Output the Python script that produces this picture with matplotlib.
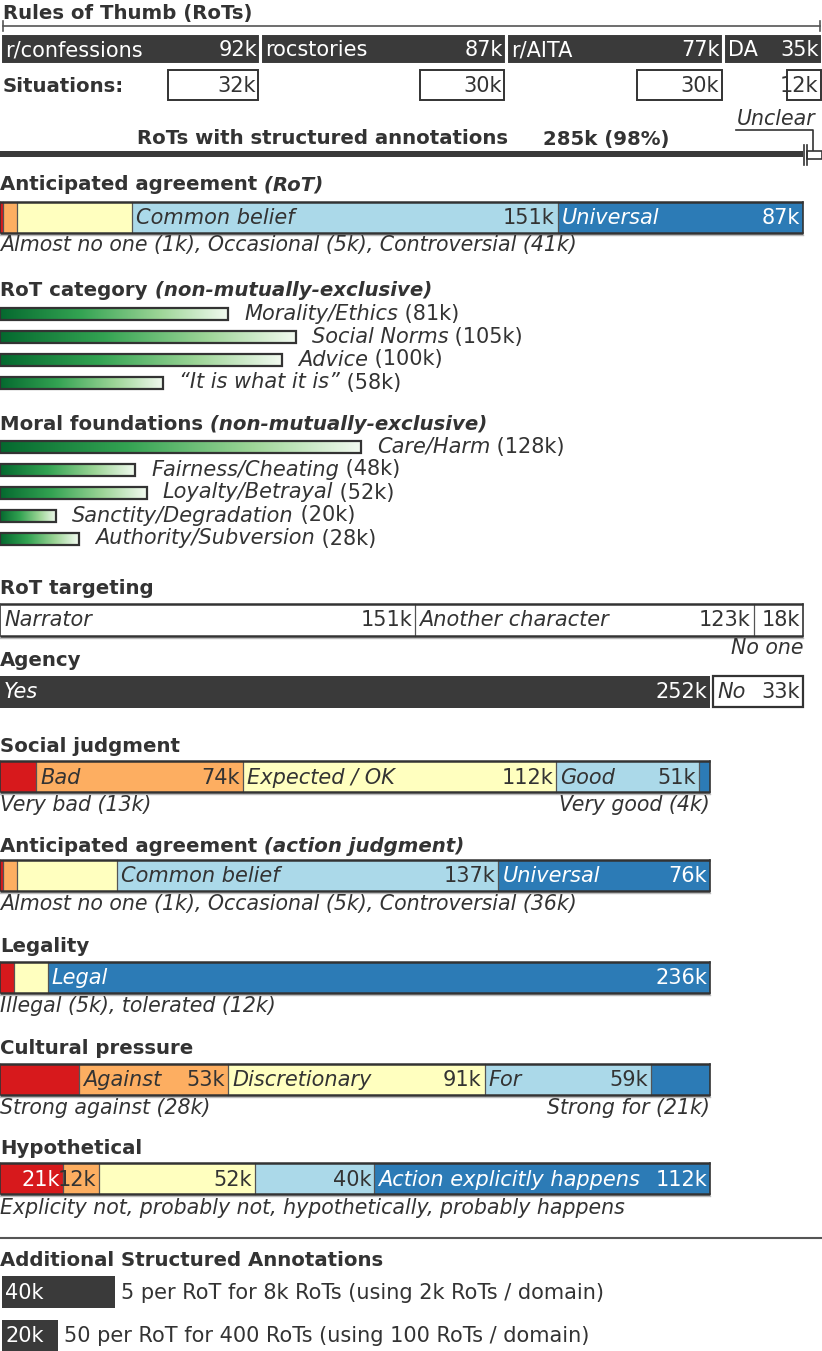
import matplotlib
matplotlib.use("Agg")
import matplotlib.pyplot as plt
import numpy as np
from matplotlib.colors import LinearSegmentedColormap
from matplotlib.patches import Rectangle

plt.rcParams['font.family'] = ['DejaVu Sans']

# ---------------- data ----------------
domains = ['r/confessions', 'rocstories', 'r/AITA', 'DA']
domain_rots = [92, 87, 77, 35]
domain_situations = [32, 30, 30, 12]
rots_annotated = 285
rots_unclear = 6
rots_annotated_label = '285k (98%)'

agree_rot_labels = ['Almost no one', 'Occasional', 'Controversial', 'Common belief', 'Universal']
agree_rot_values = [1, 5, 41, 151, 87]

category_labels = ['Morality/Ethics', 'Social Norms', 'Advice', '\u201cIt is what it is\u201d']
category_values = [81, 105, 100, 58]

moral_labels = ['Care/Harm', 'Fairness/Cheating', 'Loyalty/Betrayal',
                'Sanctity/Degradation', 'Authority/Subversion']
moral_values = [128, 48, 52, 20, 28]

target_labels = ['Narrator', 'Another character', 'No one']
target_values = [151, 123, 18]

agency_labels = ['Yes', 'No']
agency_values = [252, 33]

social_labels = ['Very bad', 'Bad', 'Expected / OK', 'Good', 'Very good']
social_values = [13, 74, 112, 51, 4]

agree_action_labels = ['Almost no one', 'Occasional', 'Controversial', 'Common belief', 'Universal']
agree_action_values = [1, 5, 36, 137, 76]

legal_labels = ['Illegal', 'tolerated', 'Legal']
legal_values = [5, 12, 236]

cultural_labels = ['Strong against', 'Against', 'Discretionary', 'For', 'Strong for']
cultural_values = [28, 53, 91, 59, 21]

hypo_labels = ['Explicity not', 'probably not', 'hypothetically', 'probably happens',
               'Action explicitly happens']
hypo_values = [21, 12, 52, 40, 112]

extra_values = [40, 20]
extra_texts = ['5 per RoT for 8k RoTs (using 2k RoTs / domain)',
               '50 per RoT for 400 RoTs (using 100 RoTs / domain)']

# ---------------- style ----------------
W, H = 822, 1351
K = rots_annotated / 803.0        # thousands of RoTs per pixel
XMAX = W * K
def P(px):
    return px * K

FS = 15.0      # body text
FI = 14.8      # italic captions
FT = 14.2      # bold titles
TXT = '#333333'
EDGE = '#333333'
SEP = '#555555'
DARK = '#3a3a3a'
RED, ORA, YEL, LBL, BLU = '#d7191c', '#fdae61', '#ffffbf', '#abd9e9', '#2c7bb6'
FIVE = [RED, ORA, YEL, LBL, BLU]
green = LinearSegmentedColormap.from_list(
    'g', [(0, '#05692f'), (0.35, '#33a352'), (0.7, '#9dd597'), (1, '#f2faf0')])

fig = plt.figure(figsize=(W / 100, H / 100), dpi=100)
ax = fig.add_axes([0, 0, 1, 1])
ax.axis('off')


def fmt(v):
    return f'{v}k'


def mixed(x, y, parts, color=TXT, va='center'):
    s, st, wt, fs = parts[0]
    prev = ax.text(x, y, s, fontsize=fs, style=st, weight=wt, color=color,
                   va=va, ha='left')
    for s, st, wt, fs in parts[1:]:
        prev = ax.annotate(s, xy=(1, 0), xycoords=prev, va='bottom', ha='left',
                           fontsize=fs, style=st, weight=wt, color=color)


def title(y, main, extra=None):
    parts = [(main, 'normal', 'bold', FT)]
    if extra:
        parts.append((' ' + extra, 'italic', 'bold', FT))
    mixed(0, y, parts)


def stacked(yc, h, values, colors, total, edge=EDGE):
    vals = np.asarray(values, float)
    w = vals / vals.sum() * total
    left = np.concatenate([[0], np.cumsum(w)[:-1]])
    ax.barh(yc, w, left=left, height=h, color=colors, linewidth=0, zorder=2)
    for b in left[1:]:
        ax.plot([b, b], [yc - h / 2, yc + h / 2], color=SEP, lw=0.9, zorder=3)
    ax.plot([0, total], [yc - h / 2, yc - h / 2], color=edge, lw=1.8, zorder=3,
            solid_capstyle='butt')
    ax.plot([0, total], [yc + h / 2, yc + h / 2], color=edge, lw=1.8, zorder=3,
            solid_capstyle='butt')
    for xx in (0, total):
        ax.plot([xx, xx], [yc - h / 2, yc + h / 2], color=edge, lw=1.2, zorder=3)
    ax.plot([0, total], [yc + h / 2 + 2, yc + h / 2 + 2], color='#bbbbbb', lw=1, zorder=1)
    return left, w


def inbar(left, w, yc, name=None, value=None, color=TXT):
    if name:
        ax.text(left + P(4), yc + 1, name, style='italic', fontsize=FS,
                color=color, va='center', ha='left', zorder=4)
    if value is not None:
        ax.text(left + w - P(3), yc + 1, fmt(value), fontsize=FS,
                color=color, va='center', ha='right', zorder=4)


def caption(x, y, s, ha='left'):
    ax.text(x, y, s, style='italic', fontsize=FI, color=TXT, va='center', ha=ha)


def gradient_bars(ycs, values, labels, h=12):
    for yc, v, lab in zip(ycs, values, labels):
        ax.imshow(np.linspace(0, 1, 256)[None, :], extent=(0, v, yc + h / 2, yc - h / 2),
                  cmap=green, aspect='auto', zorder=2, interpolation='bilinear')
        ax.add_patch(Rectangle((0, yc - h / 2), v, h, fill=False, ec=EDGE,
                               lw=1.6, zorder=3))
        mixed(v + P(16), yc, [(lab, 'italic', 'normal', FS),
                              (' (' + fmt(v) + ')', 'normal', 'normal', FS)])


# ---------------- Rules of Thumb ----------------
ax.text(P(3), 14, 'Rules of Thumb (RoTs)', fontsize=FT, weight='bold',
        color=TXT, va='center', ha='left')
ax.plot([P(3), P(820)], [26, 26], color=SEP, lw=1.2)
for xx in (3, 820):
    ax.plot([P(xx), P(xx)], [21, 31], color=SEP, lw=1.2)

dvals = np.asarray(domain_rots, float)
dw = dvals / dvals.sum() * XMAX
dleft = np.concatenate([[0], np.cumsum(dw)[:-1]])
ax.barh(48.5, dw, left=dleft, height=31, color=DARK,
        edgecolor='white', linewidth=2.2, zorder=2)
for l, w_, v, name in zip(dleft, dw, domain_rots, domains):
    ax.text(l + P(5), 50, name, fontsize=FS, color='white', va='center', ha='left', zorder=4)
    ax.text(l + w_ - P(3), 50, fmt(v), fontsize=FS, color='white', va='center', ha='right', zorder=4)

ax.text(P(3), 86, 'Situations:', fontsize=FT, weight='bold', color=TXT, va='center')
dend = dleft + dw
for e, s in zip(dend, domain_situations):
    ax.barh(84.5, s, left=e - s - P(1.5), height=30, color='white',
            edgecolor=EDGE, linewidth=1.4, zorder=2)
    ax.text(e - P(4), 86, fmt(s), fontsize=FS, color=TXT, va='center', ha='right', zorder=4)

ax.text(P(137), 139, 'RoTs with structured annotations', fontsize=FT, weight='bold',
        color=TXT, va='center', ha='left')
ax.text(P(543), 139, rots_annotated_label, fontsize=FT, weight='bold',
        color=TXT, va='center', ha='left')
ax.barh(154, rots_annotated, height=6, color=DARK, zorder=2)
# unclear remainder
ux = rots_annotated + P(3.5)
ax.add_patch(Rectangle((ux, 151), XMAX - ux, 8, fc='white', ec=EDGE, lw=1.2, zorder=3))
for xx in (rots_annotated + P(0.5), ux):
    ax.plot([xx, xx], [145, 165], color=EDGE, lw=1.2, zorder=4)
ax.text(P(737), 119, 'Unclear', fontsize=FI, style='italic', color=TXT,
        va='center', ha='left')
ax.plot([P(736), P(813), P(813)], [130, 130, 151], color=EDGE, lw=1.2)

# ---------------- Anticipated agreement (RoT) ----------------
title(185, 'Anticipated agreement', '(RoT)')
l, w = stacked(217.5, 31, agree_rot_values, FIVE, rots_annotated)
inbar(l[3], w[3], 217.5, agree_rot_labels[3], agree_rot_values[3])
inbar(l[4], w[4], 217.5, agree_rot_labels[4], agree_rot_values[4], color='white')
caption(0, 245, ', '.join(f'{a} ({fmt(b)})' for a, b in
                          zip(agree_rot_labels[:3], agree_rot_values[:3])))

# ---------------- RoT category ----------------
title(290, 'RoT category', '(non-mutually-exclusive)')
gradient_bars([314, 337, 359.5, 382.5], category_values, category_labels)

# ---------------- Moral foundations ----------------
title(424, 'Moral foundations', '(non-mutually-exclusive)')
gradient_bars([446.5, 469.5, 492.5, 515.5, 538.5], moral_values, moral_labels)

# ---------------- RoT targeting ----------------
title(589, 'RoT targeting')
l, w = stacked(619.5, 32, target_values, ['white'] * 3, rots_annotated)
inbar(l[0], w[0], 619.5, target_labels[0], target_values[0])
inbar(l[1], w[1], 619.5, target_labels[1], target_values[1])
inbar(l[2], w[2], 619.5, None, target_values[2])
caption(rots_annotated, 648, target_labels[2], ha='right')

# ---------------- Agency ----------------
title(661, 'Agency')
ax.barh(691.5, agency_values[0], height=32, color=DARK, lw=0, zorder=2)
inbar(0, agency_values[0], 691.5, agency_labels[0], agency_values[0], color='white')
no_left = agency_values[0] + P(3)
no_w = rots_annotated - no_left
ax.barh(691.5, no_w, left=no_left, height=31, color='white', edgecolor=EDGE, lw=1.6, zorder=2)
inbar(no_left, no_w, 691.5, agency_labels[1], agency_values[1])

ACT = agency_values[0]

# ---------------- Social judgment ----------------
title(746, 'Social judgment')
l, w = stacked(776.5, 31, social_values, FIVE, ACT)
for i in (1, 2, 3):
    inbar(l[i], w[i], 776.5, social_labels[i], social_values[i])
caption(0, 805, f'{social_labels[0]} ({fmt(social_values[0])})')
caption(ACT, 805, f'{social_labels[4]} ({fmt(social_values[4])})', ha='right')

# ---------------- Anticipated agreement (action) ----------------
title(846, 'Anticipated agreement', '(action judgment)')
l, w = stacked(875.5, 31, agree_action_values, FIVE, ACT)
inbar(l[3], w[3], 875.5, agree_action_labels[3], agree_action_values[3])
inbar(l[4], w[4], 875.5, agree_action_labels[4], agree_action_values[4], color='white')
caption(0, 904, ', '.join(f'{a} ({fmt(b)})' for a, b in
                          zip(agree_action_labels[:3], agree_action_values[:3])))

# ---------------- Legality ----------------
title(946, 'Legality')
l, w = stacked(977.5, 31, legal_values, [RED, YEL, BLU], ACT)
inbar(l[2], w[2], 977.5, legal_labels[2], legal_values[2], color='white')
caption(0, 1006, f'{legal_labels[0]} ({fmt(legal_values[0])}), '
                 f'{legal_labels[1]} ({fmt(legal_values[1])})')

# ---------------- Cultural pressure ----------------
title(1049, 'Cultural pressure')
l, w = stacked(1079.5, 31, cultural_values, FIVE, ACT)
for i in (1, 2, 3):
    inbar(l[i], w[i], 1079.5, cultural_labels[i], cultural_values[i])
caption(0, 1108, f'{cultural_labels[0]} ({fmt(cultural_values[0])})')
caption(ACT, 1108, f'{cultural_labels[4]} ({fmt(cultural_values[4])})', ha='right')

# ---------------- Hypothetical ----------------
title(1149, 'Hypothetical')
l, w = stacked(1178.5, 31, hypo_values, FIVE, ACT)
inbar(l[0], w[0], 1178.5, None, hypo_values[0], color='white')
for i in (1, 2, 3):
    inbar(l[i], w[i], 1178.5, None, hypo_values[i])
inbar(l[4], w[4], 1178.5, hypo_labels[4], hypo_values[4], color='white')
caption(0, 1208, ', '.join(hypo_labels[:4]))

# ---------------- separator + additional ----------------
ax.plot([0, XMAX], [1238, 1238], color=SEP, lw=1.5)
title(1261, 'Additional Structured Annotations')
for yc, v, t in zip([1292, 1335.5], extra_values, extra_texts):
    ax.barh(yc, v, left=P(2), height=32, color=DARK, zorder=2)
    ax.text(P(5), yc + 1, fmt(v), fontsize=FS, color='white', va='center', ha='left', zorder=4)
    ax.text(v + P(8), yc + 1, t, fontsize=FS, color=TXT, va='center', ha='left')

ax.set_xlim(0, XMAX)
ax.set_ylim(H, 0)
fig.savefig('out.png', dpi=100, facecolor='white')
